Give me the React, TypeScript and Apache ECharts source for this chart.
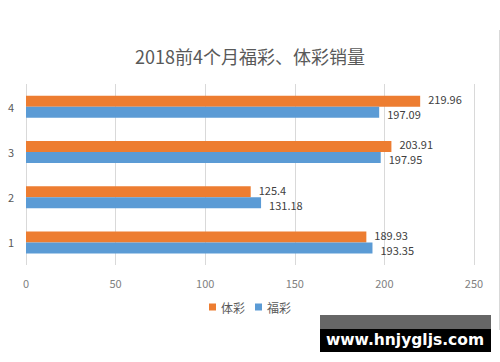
import React, { useEffect, useRef } from "react";
import * as echarts from "echarts";

const categories = ["1", "2", "3", "4"];
const tiCai = [189.93, 125.4, 203.91, 219.96];
const fuCai = [193.35, 131.18, 197.95, 197.09];
const xTicks = { min: 0, max: 250, interval: 50 };

export default function App() {
  const ref = useRef<HTMLDivElement>(null);
  useEffect(() => {
    const chart = echarts.init(ref.current!, null, { renderer: "svg" });
    const font = "'Microsoft YaHei', 'Noto Sans CJK SC', sans-serif";
    chart.setOption({
      animation: false,
      backgroundColor: "#fff",
      title: {
        text: "2018前4个月福彩、体彩销量",
        left: "center",
        top: 42,
        textStyle: { fontSize: 18, fontWeight: "normal", color: "#595959", fontFamily: font },
      },
      legend: {
        data: ["体彩", "福彩"],
        bottom: 44,
        left: "center",
        itemWidth: 7,
        itemHeight: 7,
        itemGap: 10,
        icon: "rect",
        textStyle: { fontSize: 12, color: "#595959", fontFamily: font },
      },
      grid: { left: 26, right: 26, top: 84, bottom: 97, containLabel: false },
      xAxis: {
        type: "value",
        min: xTicks.min,
        max: xTicks.max,
        interval: xTicks.interval,
        axisLine: { show: false },
        axisTick: { show: false },
        splitLine: { lineStyle: { color: "#d9d9d9" } },
        axisLabel: { color: "#7f7f7f", fontSize: 11, margin: 12, fontFamily: font },
      },
      yAxis: {
        type: "category",
        data: categories,
        axisLine: { show: false },
        axisTick: { show: false },
        axisLabel: { color: "#595959", fontSize: 11, margin: 12, fontFamily: font },
      },
      series: [
        {
          name: "体彩",
          type: "bar",
          data: tiCai,
          barWidth: 11,
          barGap: "0%",
          itemStyle: { color: "#ED7D31" },
          label: { show: true, position: "right", color: "#404040", fontSize: 11, lineHeight: 11, distance: 8, offset: [0, -2], fontFamily: font },
        },
        {
          name: "福彩",
          type: "bar",
          data: fuCai,
          barWidth: 11,
          barGap: "0%",
          itemStyle: { color: "#5B9BD5" },
          label: { show: true, position: "right", color: "#404040", fontSize: 11, lineHeight: 11, distance: 8, offset: [0, 2], fontFamily: font },
        },
      ],
      graphic: [
        { type: "rect", shape: { x: 499, y: 30, width: 1, height: 300 }, style: { fill: "#d9d9d9" } },
        { type: "rect", shape: { x: 320, y: 315, width: 171, height: 14 }, style: { fill: "#666666" } },
        { type: "rect", shape: { x: 320, y: 329, width: 171, height: 23 }, style: { fill: "#000000" } },
        {
          type: "text",
          x: 405,
          y: 340,
          style: {
            text: "www.hnjygljs.com",
            fill: "#ffffff",
            font: "bold 15.5px 'DejaVu Sans', sans-serif",
            align: "center",
            verticalAlign: "middle",
          },
        },
      ],
    });
    return () => chart.dispose();
  }, []);
  return <div ref={ref} style={{ width: 500, height: 362, position: "absolute", left: 0, top: 0 }} />;
}
